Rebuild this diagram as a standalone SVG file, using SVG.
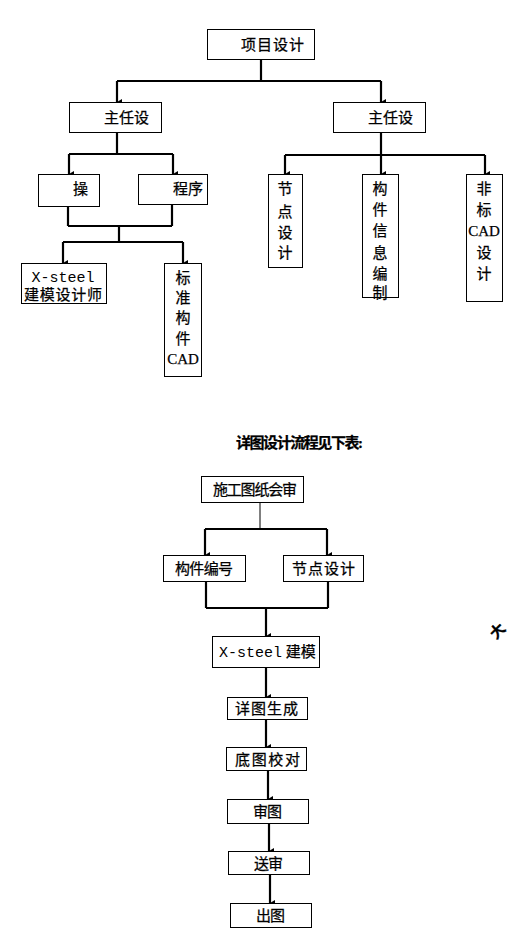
<svg xmlns="http://www.w3.org/2000/svg" width="513" height="933" viewBox="0 0 513 933">
<defs>
<marker id="ah" markerWidth="6" markerHeight="5" refX="3" refY="5" orient="auto-start-reverse" markerUnits="userSpaceOnUse" viewBox="0 0 6 5">
<path d="M0,0 L6,0 L3,5 Z" fill="#000"/>
</marker>
<style>
.box{fill:#fff;stroke:#000;stroke-width:1}
.ln{fill:none;stroke:#000;stroke-width:2.2}
.thin{fill:none;stroke:#000;stroke-width:1}
.arr{fill:none;stroke:#000;stroke-width:2.2;marker-end:url(#ah)}
.t{font-family:"Liberation Serif","Noto Sans CJK SC",serif;font-size:15px;fill:#000;stroke:#000;stroke-width:0.25}
.m{font-family:"Liberation Mono","Noto Sans CJK SC",monospace;font-size:15px;fill:#000}
.c{text-anchor:middle}
</style>
</defs>
<rect width="513" height="933" fill="#fff"/>
<g id="connectors">
<path class="ln" d="M261,59 V81 M117,81 H381"/>
<path class="arr" d="M117,81 V102"/>
<path class="arr" d="M381,81 V102"/>
<path class="ln" d="M117,132 V154 M69,154 H173"/>
<path class="arr" d="M69,154 V174"/>
<path class="arr" d="M173,154 V174"/>
<path class="ln" d="M68,206 V226 M172,204 V226 M68,226 H172 M119,226 V242 M63,242 H183"/>
<path class="arr" d="M63,242 V263"/>
<path class="arr" d="M183,242 V263"/>
<path class="ln" d="M381,132 V155 M285,155 H485"/>
<path class="arr" d="M285,155 V174"/>
<path class="arr" d="M381,155 V174"/>
<path class="arr" d="M485,155 V174"/>
<path class="thin" d="M260,502 V529"/>
<path class="ln" d="M205,529 H327"/>
<path class="arr" d="M205,529 V555"/>
<path class="arr" d="M327,529 V555"/>
<path class="ln" d="M206,581 V608 M328,581 V608 M206,608 H328"/>
<path class="arr" d="M266,608 V636"/>
<path class="arr" d="M266,667 V697"/>
<path class="arr" d="M266,719 V747"/>
<path class="arr" d="M268,770 V799"/>
<path class="arr" d="M269,823 V851"/>
<path class="arr" d="M270,874 V903"/>
</g>
<g id="n-top"><rect class="box" x="207.5" y="29.5" width="107" height="30"/><text class="t" x="241" y="50" textLength="63">项目设计</text></g>
<g id="n-zr1"><rect class="box" x="69.5" y="102.5" width="92" height="30"/><text class="t" x="104" y="123">主任设</text></g>
<g id="n-zr2"><rect class="box" x="333.5" y="102.5" width="92" height="30"/><text class="t" x="368" y="123">主任设</text></g>
<g id="n-cao"><rect class="box" x="38.5" y="174.5" width="61" height="32"/><text class="t" x="73" y="194">操</text></g>
<g id="n-cx"><rect class="box" x="138.5" y="174.5" width="69" height="30"/><text class="t" x="173" y="194">程序</text></g>
<g id="n-xs"><rect class="box" x="21.5" y="263.5" width="85" height="40"/><text class="m c" x="63" y="282">X-steel</text><text class="t c" x="63" y="300" textLength="78">建模设计师</text></g>
<g id="n-bz"><rect class="box" x="164.5" y="263.5" width="37" height="113"/>
<text class="t c" x="183" y="283">标</text><text class="t c" x="183" y="303">准</text><text class="t c" x="183" y="323">构</text><text class="t c" x="183" y="344">件</text><text class="t c" x="183" y="364" font-size="13">CAD</text></g>
<g id="n-jd"><rect class="box" x="268.5" y="174.5" width="34" height="93"/>
<text class="t c" x="285" y="194">节</text><text class="t c" x="285" y="217">点</text><text class="t c" x="285" y="238">设</text><text class="t c" x="285" y="258">计</text></g>
<g id="n-gj"><rect class="box" x="362.5" y="174.5" width="36" height="123"/>
<text class="t c" x="380" y="194">构</text><text class="t c" x="380" y="215">件</text><text class="t c" x="380" y="236">信</text><text class="t c" x="380" y="258">息</text><text class="t c" x="380" y="279">编</text><text class="t c" x="380" y="298">制</text></g>
<g id="n-fb"><rect class="box" x="466.5" y="174.5" width="36" height="127"/>
<text class="t c" x="484" y="194">非</text><text class="t c" x="484" y="215">标</text><text class="t c" x="484" y="236" font-size="13">CAD</text><text class="t c" x="484" y="258">设</text><text class="t c" x="484" y="279">计</text></g>
<text class="t" x="236" y="448" font-size="13" font-weight="bold" textLength="127">详图设计流程见下表:</text>
<g id="f-sg"><rect class="box" x="201.5" y="476.5" width="102" height="26"/><text class="t" x="213" y="495" textLength="84">施工图纸会审</text></g>
<g id="f-gj"><rect class="box" x="163.5" y="555.5" width="82" height="26"/><text class="t" x="175" y="574" textLength="58">构件编号</text></g>
<g id="f-jd"><rect class="box" x="283.5" y="555.5" width="80" height="26"/><text class="t" x="292" y="574" textLength="63">节点设计</text></g>
<g id="f-xs"><rect class="box" x="212.5" y="636.5" width="107" height="31"/><text class="t" x="219" y="657"><tspan class="m" stroke-width="0">X-steel</tspan> 建模</text></g>
<g id="f-xt"><rect class="box" x="227.5" y="697.5" width="80" height="22"/><text class="t" x="235" y="714" textLength="63">详图生成</text></g>
<g id="f-dt"><rect class="box" x="226.5" y="747.5" width="80" height="23"/><text class="t" x="235" y="765" textLength="65">底图校对</text></g>
<g id="f-st"><rect class="box" x="227.5" y="799.5" width="81" height="24"/><text class="t" x="253" y="817" textLength="29">审图</text></g>
<g id="f-ss"><rect class="box" x="228.5" y="851.5" width="81" height="23"/><text class="t" x="254" y="869" textLength="29">送审</text></g>
<g id="f-ct"><rect class="box" x="230.5" y="903.5" width="81" height="24"/><text class="t" x="256" y="921" textLength="29">出图</text></g>
<text class="t" x="0" y="0" font-size="32" font-weight="bold" transform="translate(496,640) rotate(-45)">大</text>
</svg>
